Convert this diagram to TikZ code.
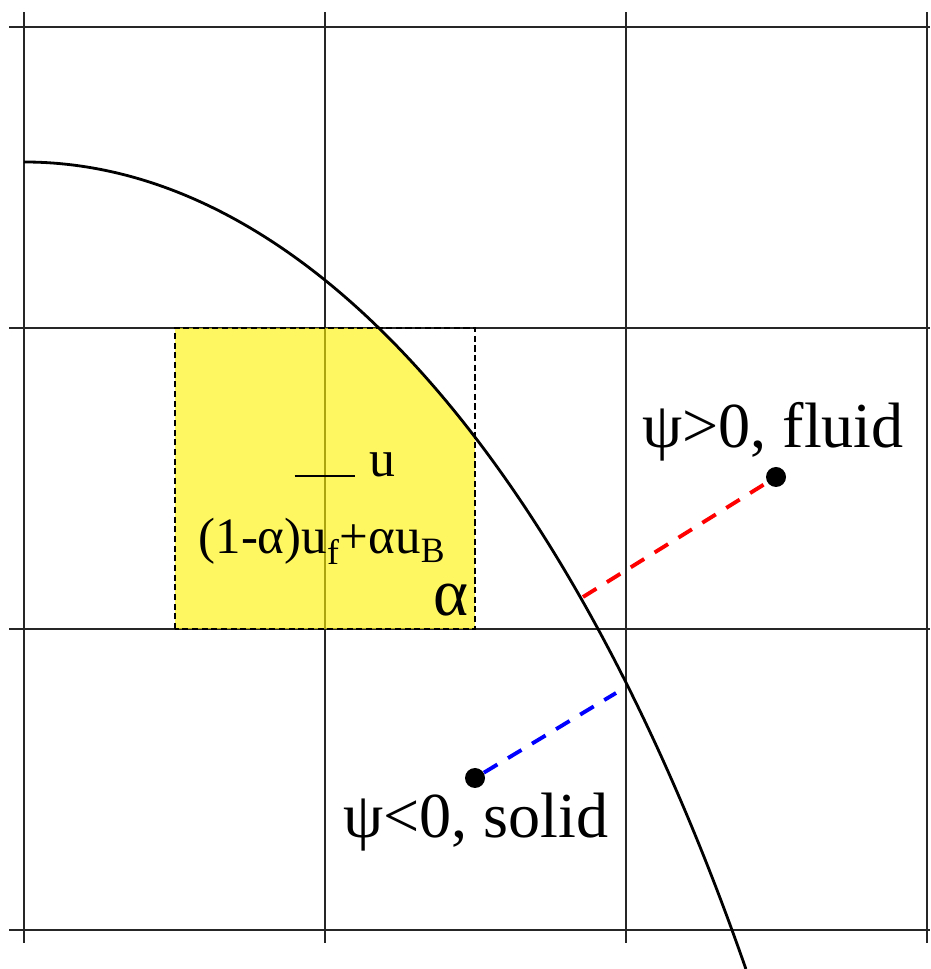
\documentclass[tikz,border=0pt]{standalone}
\usepackage{fontspec}
\setmainfont{Liberation Serif}
\begin{document}
\begin{tikzpicture}[x=0.02cm,y=0.02cm,
    gridline/.style={line width=0.8pt,color=black!85},
    dashlink/.style={line width=2.2pt,dash pattern=on 9pt off 7pt},
    dot/.style={circle,fill=black,inner sep=0pt,minimum size=0.4cm},
    lbl/.style={anchor=base,inner sep=0pt}]
    \useasboundingbox (0,0) rectangle (930,969);
    % grid
    \foreach \X in {24,325,626,927} {
        \draw[gridline] (\X,26) -- (\X,957);}
    \foreach \Y in {942,641,340,39} {
        \draw[gridline] (9,\Y) -- (930,\Y);}
    % cut cell, filled only inside the interface
    \begin{scope}
        \clip (24,-1431) ellipse [x radius=939, y radius=2238];
        \fill[yellow, fill opacity=0.62] (175,340) rectangle (475,641);
    \end{scope}
    \draw[line width=1pt,dash pattern=on 3.5pt off 2pt] (175,340) rectangle (475,641);
    % interface
    \draw[line width=1.6pt] (24,807) arc[start angle=90, end angle=39.75, x radius=939, y radius=2238];
    \node[lbl,font=\fontsize{29.5}{34}\selectfont] (ubar) at (345,492) {\rule{1.2cm}{1.2pt}\hspace{0.3cm}u};
    \node[lbl,font=\fontsize{29}{34}\selectfont] (mix) at (322,415) {(1-α)u\textsubscript{f}+αu\textsubscript{B}};
    \node[lbl,font=\fontsize{38}{42}\selectfont,text height=15pt,text depth=0pt] (alpha) at (451,353) {α};
    % fluid and solid points
    \node[dot] (fluid) at (776,492) {};
    \node[dot] (solid) at (475,191) {};
    \coordinate (fluidfoot) at (583,372);
    \coordinate (solidfoot) at (616,276);
    \draw[dashlink,red] (fluidfoot) -- (fluid);
    \draw[dashlink,blue] (solid) -- (solidfoot);
    \node[lbl,font=\fontsize{36.5}{40}\selectfont] (fluidlabel) at (773,521) {ψ>0, fluid};
    \node[lbl,font=\fontsize{36.5}{40}\selectfont] (solidlabel) at (476,131) {ψ<0, solid};
\end{tikzpicture}
\end{document}
